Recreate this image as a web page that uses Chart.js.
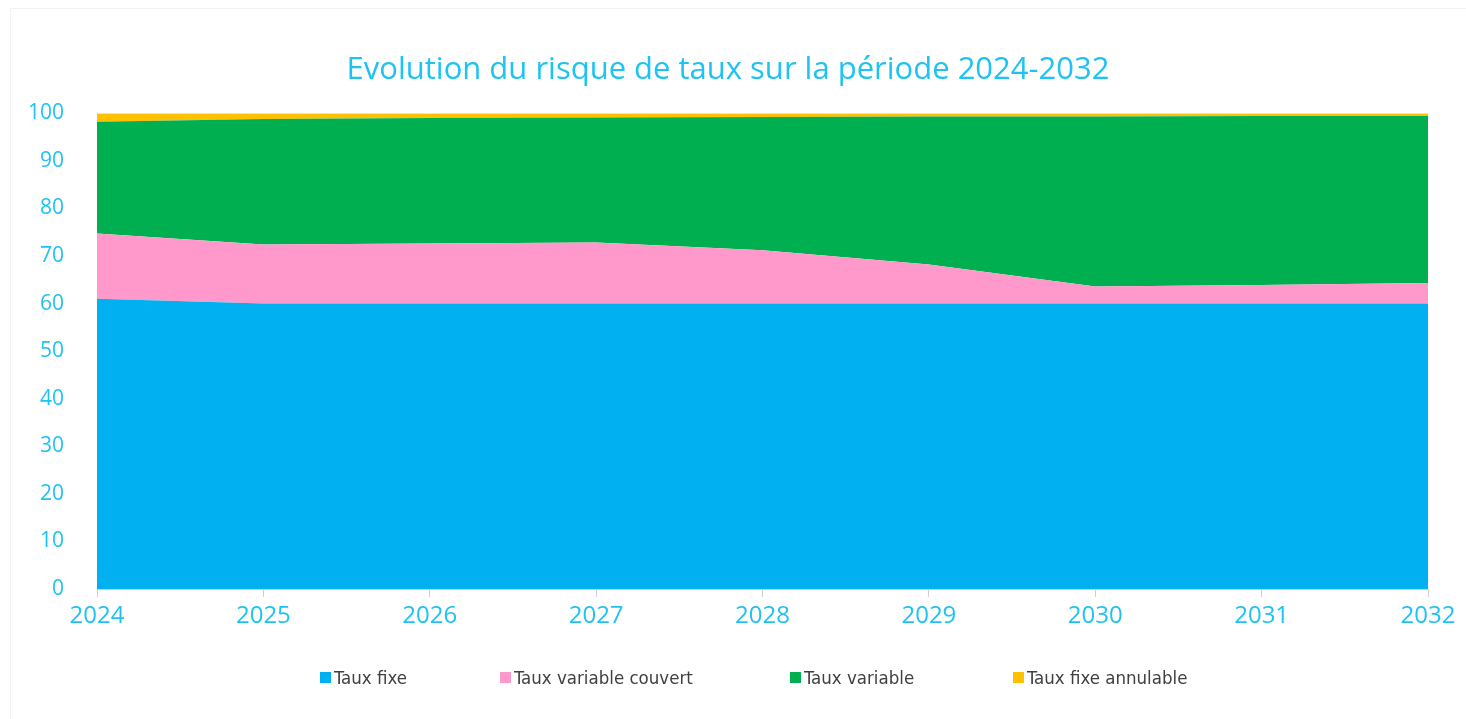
<!DOCTYPE html>
<html>
<head>
<meta charset="utf-8">
<script src="https://cdn.jsdelivr.net/npm/chart.js@4"></script>
<style>
  html, body { margin: 0; padding: 0; background: #fff; }
  #wrap { position: relative; width: 1466px; height: 719px; }
  #frame { position: absolute; left: 10px; top: 8px; right: 0; bottom: 0; border-left: 1px solid #f3f3f3; border-top: 1px solid #f3f3f3; pointer-events: none; }
  #legend { position: absolute; left: 0; top: 665px; width: 1466px; height: 24px; font-family: "Liberation Sans Narrow", "DejaVu Sans Condensed", sans-serif; font-size: 18.5px; color: #404040; }
  .item { position: absolute; top: 0; display: flex; align-items: center; height: 24px; white-space: nowrap; }
  .box { width: 11px; height: 11px; margin-right: 3px; }
</style>
</head>
<body>
<div id="wrap">
  <canvas id="chart" width="1466" height="719"></canvas>
  <div id="frame"></div>
  <div id="legend"></div>
</div>
<script>
const years = ["2024", "2025", "2026", "2027", "2028", "2029", "2030", "2031", "2032"];
const tauxFixe = [61, 60, 60, 60, 60, 60, 60, 60, 60];
const tauxVariableCouvert = [13.7, 12.4, 12.6, 12.8, 11.2, 8.2, 3.6, 3.9, 4.3];
const tauxVariable = [23.5, 26.4, 26.4, 26.3, 28, 31.1, 35.7, 35.5, 35.1];
const tauxFixeAnnulable = [1.8, 1.2, 1.0, 0.9, 0.8, 0.7, 0.7, 0.6, 0.6];
const yTicks = [0, 10, 20, 30, 40, 50, 60, 70, 80, 90, 100];

const cyan = "#1fc3f3";

function area(label, data, color, fill) {
  return {
    label: label,
    data: data,
    backgroundColor: color,
    borderColor: color,
    borderWidth: 0,
    pointRadius: 0,
    tension: 0,
    fill: fill
  };
}

const chart = new Chart(document.getElementById("chart").getContext("2d"), {
  type: "line",
  data: {
    labels: years,
    datasets: [
      area("Taux fixe", tauxFixe, "#00b0f0", "origin"),
      area("Taux variable couvert", tauxVariableCouvert, "#ff99cc", "-1"),
      area("Taux variable", tauxVariable, "#00b050", "-1"),
      area("Taux fixe annulable", tauxFixeAnnulable, "#ffc000", "-1")
    ]
  },
  options: {
    responsive: false,
    animation: false,
    layout: { padding: { left: 28, right: 38, top: 0, bottom: 70 } },
    plugins: {
      legend: { display: false },
      tooltip: { enabled: false },
      title: {
        display: true,
        text: "Evolution du risque de taux sur la période 2024-2032",
        color: cyan,
        font: { family: "Open Sans", size: 31, weight: "normal" },
        padding: { top: 52, bottom: 24 }
      }
    },
    scales: {
      x: {
        offset: false,
        grid: { display: true, drawOnChartArea: false, drawTicks: true, tickLength: 8, color: "#d0d0d0" },
        border: { display: true, color: "#d0d0d0" },
        ticks: { color: cyan, font: { family: "Open Sans", size: 24 }, padding: 5, maxRotation: 0 },
        afterFit: (s) => { s.height = 60; }
      },
      y: {
        stacked: true,
        min: 0,
        max: 100,
        afterBuildTicks: (s) => { s.ticks = yTicks.map((v) => ({ value: v })); },
        grid: { display: false },
        border: { display: false },
        ticks: { color: cyan, font: { family: "Open Sans", size: 21 }, padding: 25 },
        afterFit: (s) => { s.width = 69; }
      }
    }
  }
});

// legend below the chart, spaced like the original
const legend = document.getElementById("legend");
const legendX = [320, 500, 790, 1013];
chart.data.datasets.forEach((ds, i) => {
  const item = document.createElement("div");
  item.className = "item";
  item.style.left = legendX[i] + "px";
  const box = document.createElement("span");
  box.className = "box";
  box.style.background = ds.backgroundColor;
  item.appendChild(box);
  item.appendChild(document.createTextNode(ds.label));
  legend.appendChild(item);
});
</script>
</body>
</html>
